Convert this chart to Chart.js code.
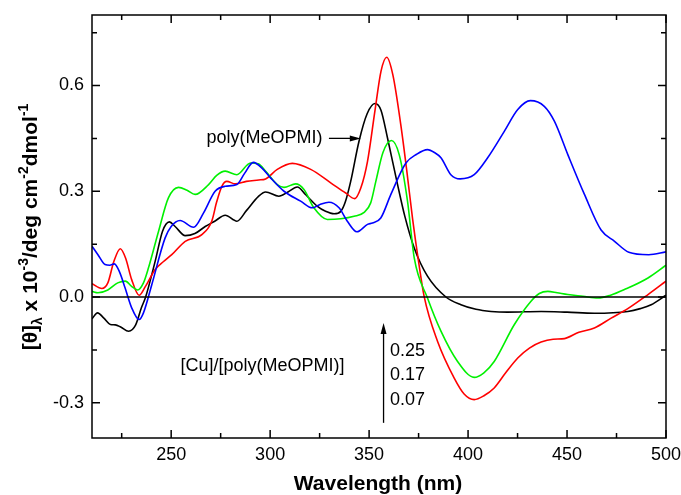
<!DOCTYPE html>
<html>
<head>
<meta charset="utf-8">
<script src="https://cdn.jsdelivr.net/npm/chart.js@4.4.0/dist/chart.umd.min.js"></script>
<style>
  body { margin: 0; background: #fff; }
  #wrap { width: 681px; height: 495px; }
</style>
</head>
<body>
<div id="wrap"><canvas id="cd" width="681" height="495"></canvas></div>
<script>
// CD spectra, wavelength (nm) vs [theta] x 10^-3
const blackX = [210, 212.8, 216, 219.3, 221.8, 224.5, 228.5, 232, 235, 237.1, 241.9, 245.6, 249.1, 252, 257.1, 262, 267.2, 272, 277.3, 283.2, 288, 294, 297.7, 304.4, 309, 313.7, 318, 323.9, 328, 332.3, 335.7, 338, 340.7, 344.9, 349, 353, 356, 359.3, 364.3, 368, 372.8, 379.5, 388.8, 396.4, 404, 411.6, 420, 436.9, 450, 463.8, 480.7, 487, 492.5, 500];
const blackY = [-0.062, -0.045, -0.06, -0.078, -0.079, -0.085, -0.097, -0.08, -0.03, 0.0, 0.101, 0.186, 0.213, 0.2, 0.174, 0.18, 0.2, 0.215, 0.232, 0.215, 0.245, 0.285, 0.298, 0.286, 0.298, 0.312, 0.29, 0.257, 0.243, 0.236, 0.243, 0.27, 0.328, 0.442, 0.52, 0.549, 0.53, 0.451, 0.321, 0.23, 0.139, 0.059, 0.0, -0.022, -0.035, -0.041, -0.043, -0.041, -0.043, -0.046, -0.041, -0.033, -0.022, 0.005];

const redX = [210, 215, 218, 221, 224.3, 227, 230, 233.8, 237, 241.9, 246, 250.3, 257.1, 265.5, 270.5, 273, 275.6, 278.1, 282.4, 288, 294.2, 297.7, 303.6, 311.2, 320.5, 330.6, 338.2, 342.7, 345.8, 349.2, 353, 356, 358.9, 362, 366, 369, 372, 375, 377.8, 384.6, 393, 398, 403.1, 408, 413.2, 419, 425.1, 431, 436.9, 443, 448.7, 456, 463.8, 472.3, 480.7, 490.9, 500];
const redY = [0.038, 0.024, 0.04, 0.1, 0.137, 0.11, 0.05, 0.005, 0.03, 0.078, 0.1, 0.12, 0.158, 0.177, 0.215, 0.27, 0.314, 0.328, 0.321, 0.328, 0.332, 0.335, 0.362, 0.379, 0.362, 0.324, 0.295, 0.279, 0.309, 0.385, 0.53, 0.64, 0.68, 0.63, 0.489, 0.36, 0.22, 0.1, 0.002, -0.126, -0.23, -0.275, -0.291, -0.28, -0.258, -0.215, -0.173, -0.145, -0.128, -0.12, -0.118, -0.1, -0.088, -0.06, -0.033, 0.007, 0.045];

const greenX = [210, 213, 218, 223, 226.9, 230, 233.1, 236, 238.5, 243.6, 248.6, 253.7, 258, 262.1, 268.9, 273, 277.3, 283.2, 290.1, 294, 298, 303.6, 307, 312.9, 317.1, 322.1, 328.9, 335.7, 342.4, 347.5, 350.8, 353.4, 357, 361.3, 365.2, 369.4, 372.8, 379.5, 386.3, 394.7, 403.1, 408, 413.2, 423.4, 431.8, 436, 440.3, 445, 450.4, 458, 465.6, 472, 479, 490.9, 500];
const greenY = [0.016, 0.012, 0.02, 0.04, 0.045, 0.03, 0.02, 0.04, 0.082, 0.186, 0.281, 0.311, 0.303, 0.291, 0.319, 0.345, 0.357, 0.347, 0.38, 0.378, 0.355, 0.319, 0.311, 0.321, 0.305, 0.253, 0.22, 0.222, 0.229, 0.24, 0.267, 0.328, 0.41, 0.444, 0.404, 0.272, 0.111, -0.003, -0.097, -0.183, -0.228, -0.215, -0.183, -0.078, -0.012, 0.01, 0.016, 0.012, 0.007, 0.002, -0.003, 0.005, 0.021, 0.054, 0.09];

const blueX = [210, 213, 216.6, 219, 221.3, 224, 226.7, 230, 233.8, 236, 240.2, 246.9, 250, 254.5, 261.3, 266.3, 272.2, 277.3, 283.2, 287, 291.5, 296, 300.2, 307, 315.4, 321.3, 325, 329.7, 334.8, 339, 343.8, 349.2, 351.7, 355.9, 361, 368.6, 374, 379.5, 383, 386.3, 391.3, 396, 403.1, 409.9, 418.3, 425.1, 431.5, 438.5, 443.6, 450.4, 458.8, 467.2, 474, 481.2, 491.3, 500];
const blueY = [0.144, 0.12, 0.092, 0.09, 0.094, 0.07, 0.026, -0.03, -0.064, -0.045, 0.035, 0.167, 0.2, 0.217, 0.198, 0.238, 0.3, 0.314, 0.319, 0.35, 0.382, 0.365, 0.338, 0.3, 0.272, 0.253, 0.262, 0.269, 0.253, 0.215, 0.185, 0.206, 0.21, 0.224, 0.291, 0.38, 0.405, 0.418, 0.41, 0.395, 0.347, 0.335, 0.347, 0.395, 0.47, 0.532, 0.557, 0.541, 0.499, 0.404, 0.291, 0.19, 0.158, 0.127, 0.12, 0.128];

const zeroX = [210, 500];
const zeroY = [0, 0];

const xTicks = [225, 250, 275, 300, 325, 350, 375, 400, 425, 450, 475, 500];
const xLabels = [250, 300, 350, 400, 450, 500];
const yTicks = [-0.3, -0.15, 0, 0.15, 0.3, 0.45, 0.6, 0.75];
const yLabels = [-0.3, 0, 0.3, 0.6];

const noteTexts = ['poly(MeOPMI)', '[Cu]/[poly(MeOPMI)]', '0.25', '0.17', '0.07'];
const noteX = [326.4, 254.7, 360.6, 360.6, 360.6];
const noteY = [0.45, -0.197, -0.152, -0.222, -0.293];
const noteAlign = ['right', 'left', 'left', 'left', 'left'];
const arrowFrom = [[329.7, 0.45], [357.3, -0.357]];
const arrowTo = [[345.8, 0.45], [357.3, -0.074]];

const FONT = '"Liberation Sans", Arial, sans-serif';

function pts(xs, ys) { return xs.map((x, i) => ({ x, y: ys[i] })); }
function isIn(list, v) { return list.some(l => Math.abs(l - v) < 1e-9); }

function line(data, color, width) {
  return { data, borderColor: color, borderWidth: width, pointRadius: 0, fill: false, cubicInterpolationMode: 'monotone' };
}

function noPad(s) { s.paddingLeft = s.paddingRight = s.paddingTop = s.paddingBottom = 0; }

function drawArrow(ctx, x1, y1, x2, y2) {
  const ang = Math.atan2(y2 - y1, x2 - x1);
  const len = 11, half = 3;
  ctx.beginPath(); ctx.moveTo(x1, y1); ctx.lineTo(x2 - Math.cos(ang) * len * 0.6, y2 - Math.sin(ang) * len * 0.6); ctx.stroke();
  ctx.beginPath();
  ctx.moveTo(x2, y2);
  ctx.lineTo(x2 - Math.cos(ang) * len - Math.sin(ang) * half, y2 - Math.sin(ang) * len + Math.cos(ang) * half);
  ctx.lineTo(x2 - Math.cos(ang) * len + Math.sin(ang) * half, y2 - Math.sin(ang) * len - Math.cos(ang) * half);
  ctx.closePath(); ctx.fill();
}

const extras = {
  id: 'extras',
  afterDraw(chart) {
    const { ctx, chartArea: a, scales: { x, y } } = chart;
    ctx.save();
    ctx.strokeStyle = '#000'; ctx.fillStyle = '#000'; ctx.lineWidth = 1.5;
    ctx.strokeRect(a.left, a.top, a.right - a.left, a.bottom - a.top);
    ctx.beginPath();
    xTicks.forEach(v => {
      const px = x.getPixelForValue(v), len = isIn(xLabels, v) ? 8 : 5;
      ctx.moveTo(px, a.bottom); ctx.lineTo(px, a.bottom - len);
      ctx.moveTo(px, a.top); ctx.lineTo(px, a.top + len);
    });
    yTicks.forEach(v => {
      const py = y.getPixelForValue(v), len = isIn(yLabels, v) ? 8 : 5;
      ctx.moveTo(a.left, py); ctx.lineTo(a.left + len, py);
      ctx.moveTo(a.right, py); ctx.lineTo(a.right - len, py);
    });
    ctx.stroke();

    // annotations
    ctx.font = '18px ' + FONT;
    ctx.textBaseline = 'middle';
    noteTexts.forEach((t, i) => {
      ctx.textAlign = noteAlign[i];
      ctx.fillText(t, x.getPixelForValue(noteX[i]), y.getPixelForValue(noteY[i]));
    });
    ctx.lineWidth = 1.3;
    arrowFrom.forEach((f, i) => {
      drawArrow(ctx, x.getPixelForValue(f[0]), y.getPixelForValue(f[1]), x.getPixelForValue(arrowTo[i][0]), y.getPixelForValue(arrowTo[i][1]));
    });

    // x title
    ctx.font = 'bold 21px ' + FONT;
    ctx.textAlign = 'center';
    ctx.fillText('Wavelength (nm)', (a.left + a.right) / 2 - 1, 484);

    // y title with sub/superscripts
    const parts = [['[θ]', 0], ['λ', 1], [' x 10', 0], ['-3', -1], ['/deg cm', 0], ['-2', -1], ['dmol', 0], ['-1', -1]];
    const size = 21, small = 14;
    ctx.textAlign = 'left'; ctx.textBaseline = 'alphabetic';
    let total = 0;
    parts.forEach(p => { ctx.font = 'bold ' + (p[1] ? small : size) + 'px ' + FONT; total += ctx.measureText(p[0]).width; });
    ctx.translate(37, 227);
    ctx.rotate(-Math.PI / 2);
    let cx = -total / 2;
    parts.forEach(p => {
      ctx.font = 'bold ' + (p[1] ? small : size) + 'px ' + FONT;
      const dy = p[1] === 1 ? 5 : (p[1] === -1 ? -9 : 0);
      ctx.fillText(p[0], cx, dy);
      cx += ctx.measureText(p[0]).width;
    });
    ctx.restore();
  }
};

new Chart(document.getElementById('cd'), {
  type: 'line',
  data: {
    datasets: [
      line(pts(zeroX, zeroY), '#000', 1.5),
      line(pts(blueX, blueY), '#0000ff', 1.6),
      line(pts(greenX, greenY), '#00f000', 1.6),
      line(pts(redX, redY), '#ff0000', 1.6),
      line(pts(blackX, blackY), '#000', 1.6)
    ]
  },
  options: {
    responsive: false,
    animation: false,
    layout: { padding: { top: 15, right: 15, left: 0, bottom: 0 } },
    plugins: { legend: { display: false }, tooltip: { enabled: false } },
    scales: {
      x: {
        type: 'linear', min: 210, max: 500,
        afterBuildTicks: s => { s.ticks = xTicks.map(v => ({ value: v })); },
        afterFit: s => { s.height = 57; noPad(s); },
        grid: { display: false, drawTicks: false },
        border: { display: false },
        ticks: { autoSkip: false, maxRotation: 0, padding: 6, color: '#000', font: { family: FONT, size: 18 },
          callback: v => isIn(xLabels, v) ? String(v) : '' }
      },
      y: {
        type: 'linear', min: -0.4, max: 0.8,
        afterBuildTicks: s => { s.ticks = yTicks.map(v => ({ value: v })); },
        afterFit: s => { s.width = 92; noPad(s); },
        grid: { display: false, drawTicks: false },
        border: { display: false },
        ticks: { autoSkip: false, padding: 8, color: '#000', font: { family: FONT, size: 18 },
          callback: v => isIn(yLabels, v) ? v.toFixed(1) : '' }
      }
    }
  },
  plugins: [extras]
});
</script>
</body>
</html>
